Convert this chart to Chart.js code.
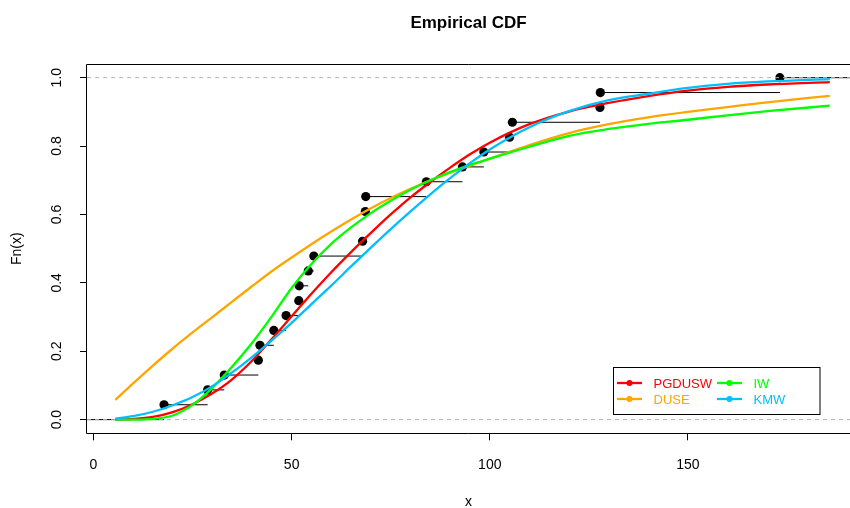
<!DOCTYPE html>
<html lang="en">
<head>
<meta charset="UTF-8">
<title>Empirical CDF</title>
<script src="https://cdn.jsdelivr.net/npm/chart.js@4.4.1/dist/chart.umd.min.js"></script>
<style>
  html, body { margin: 0; padding: 0; background: #fff; }
</style>
</head>
<body>
<canvas id="cdf" width="850" height="508"></canvas>
<script>
// observed sample (sorted, distinct values) and ECDF heights
const obsX = [17.8, 28.8, 33.0, 41.6, 42.0, 45.5, 48.6, 51.8, 51.9, 54.2, 55.6,
              67.9, 68.6, 68.7, 84.0, 93.1, 98.5, 105.0, 105.7, 127.8, 127.9, 173.2];
const ecdfY = [0.0435, 0.0870, 0.1304, 0.1739, 0.2174, 0.2609, 0.3043, 0.3478, 0.3913, 0.4348, 0.4783,
               0.5217, 0.6087, 0.6522, 0.6957, 0.7391, 0.7826, 0.8261, 0.8696, 0.9130, 0.9565, 1.0];

// fitted CDFs
const curveX = [5.5, 10, 15, 20, 25, 30, 35, 40, 45, 50, 55, 60, 65, 70, 75, 80, 85, 90, 95, 100,
                110, 120, 130, 140, 150, 160, 170, 185.8];
const pgdusw = [0.000, 0.002, 0.008, 0.022, 0.045, 0.077, 0.118, 0.172, 0.236, 0.302, 0.368, 0.431, 0.490, 0.546,
                0.600, 0.650, 0.695, 0.737, 0.776, 0.810, 0.864, 0.901, 0.926, 0.946, 0.962, 0.973, 0.980, 0.987];
const duse   = [0.058, 0.106, 0.158, 0.208, 0.255, 0.300, 0.345, 0.390, 0.434, 0.474, 0.513, 0.550, 0.585, 0.618,
                0.648, 0.675, 0.700, 0.722, 0.743, 0.763, 0.803, 0.838, 0.864, 0.884, 0.900, 0.914, 0.928, 0.947];
const iw     = [0.000, 0.000, 0.002, 0.012, 0.043, 0.093, 0.155, 0.224, 0.302, 0.385, 0.455, 0.514, 0.562, 0.604,
                0.640, 0.672, 0.700, 0.724, 0.745, 0.763, 0.798, 0.830, 0.850, 0.865, 0.877, 0.890, 0.902, 0.918];
const kmw    = [0.003, 0.010, 0.023, 0.042, 0.066, 0.098, 0.138, 0.183, 0.232, 0.283, 0.338, 0.392, 0.448, 0.503,
                0.557, 0.609, 0.659, 0.706, 0.750, 0.790, 0.855, 0.902, 0.934, 0.953, 0.970, 0.982, 0.989, 0.996];

const seriesNames = ['PGDUSW', 'DUSE', 'IW', 'KMW'];
const seriesColors = ['#FF0000', '#FFA500', '#00FF00', '#00BFFF'];

const xTicks = [0, 50, 100, 150];
const yTicks = [0, 0.2, 0.4, 0.6, 0.8, 1.0];
const yTickLabels = ['0.0', '0.2', '0.4', '0.6', '0.8', '1.0'];

const xMin = -1.64, xMax = 190.9;
const yMin = -0.04, yMax = 1.04;

Chart.defaults.font.family = '"Liberation Sans", Arial, Helvetica, sans-serif';
Chart.defaults.color = '#000';

const toXY = (xs, ys) => xs.map((x, i) => ({ x: x, y: ys[i] }));

// horizontal steps of the ecdf, broken by null points
const stepSegs = [];
const stepX = [xMin].concat(obsX);
const stepY = [0].concat(ecdfY);
for (let i = 0; i < stepX.length; i++) {
    const xEnd = i + 1 < stepX.length ? stepX[i + 1] : xMax;
    stepSegs.push({ x: stepX[i], y: stepY[i] }, { x: xEnd, y: stepY[i] }, { x: xEnd, y: null });
}

const curves = [pgdusw, duse, iw, kmw].map((vals, i) => ({
    label: seriesNames[i],
    data: toXY(curveX, vals),
    showLine: true,
    borderColor: seriesColors[i],
    borderWidth: 2.3,
    pointRadius: 0,
    cubicInterpolationMode: 'monotone',
    order: 4 - i
}));

const textPlugin = {
    id: 'rText',
    afterDraw(chart) {
        const c = chart.ctx;
        const a = chart.chartArea;
        c.save();
        // box (right side falls off the picture)
        c.strokeStyle = '#000';
        c.lineWidth = 1;
        c.beginPath();
        c.moveTo(850, Math.round(a.top) + 0.5);
        c.lineTo(Math.round(a.left) - 0.5, Math.round(a.top) + 0.5);
        c.lineTo(Math.round(a.left) - 0.5, Math.round(a.bottom) + 0.5);
        c.lineTo(850, Math.round(a.bottom) + 0.5);
        c.stroke();

        c.fillStyle = '#000';
        c.font = 'bold 17px "Liberation Sans", Arial, sans-serif';
        c.textAlign = 'center';
        c.textBaseline = 'middle';
        c.fillText('Empirical CDF', (a.left + a.right) / 2, 23);

        c.font = '14px "Liberation Sans", Arial, sans-serif';
        const ys = chart.scales.y;
        yTicks.forEach((v, i) => {
            c.save();
            c.translate(57, ys.getPixelForValue(v));
            c.rotate(-Math.PI / 2);
            c.fillText(yTickLabels[i], 0, 0);
            c.restore();
        });

        // legend
        c.fillStyle = '#fff';
        c.fillRect(613, 367, 207, 48);
        c.strokeRect(613.5, 367.5, 206.5, 47);
        const colX = [617, 717];
        const rowY = [383, 399];
        c.textAlign = 'left';
        c.font = '13px "Liberation Sans", Arial, sans-serif';
        seriesNames.forEach((name, i) => {
            const x0 = colX[Math.floor(i / 2)];
            const y0 = rowY[i % 2];
            c.strokeStyle = seriesColors[i];
            c.lineWidth = 2.3;
            c.beginPath();
            c.moveTo(x0, y0);
            c.lineTo(x0 + 25, y0);
            c.stroke();
            c.fillStyle = seriesColors[i];
            c.beginPath();
            c.arc(x0 + 12.5, y0, 3, 0, Math.PI * 2);
            c.fill();
            c.fillText(name, x0 + 36.5, y0 + 1);
        });
        c.restore();
    }
};

new Chart(document.getElementById('cdf'), {
    type: 'scatter',
    data: {
        datasets: curves.concat([
            {
                label: 'ref',
                data: [{ x: xMin, y: 0 }, { x: xMax, y: 0 }, { x: xMax, y: null },
                       { x: xMin, y: 1 }, { x: xMax, y: 1 }],
                showLine: true,
                borderColor: '#B3B3B3',
                borderWidth: 1,
                borderDash: [4, 4],
                pointRadius: 0,
                order: 5
            },
            {
                label: 'points',
                data: toXY(obsX, ecdfY),
                backgroundColor: '#000',
                borderWidth: 0,
                pointRadius: 4.6,
                order: 6
            },
            {
                label: 'steps',
                data: stepSegs,
                showLine: true,
                borderColor: '#000',
                borderWidth: 1,
                pointRadius: 0,
                spanGaps: false,
                order: 7
            }
        ])
    },
    options: {
        responsive: false,
        animation: false,
        layout: { autoPadding: false, padding: { top: 64, right: 0, bottom: 0, left: 0 } },
        plugins: { legend: { display: false }, tooltip: { enabled: false } },
        scales: {
            x: {
                type: 'linear',
                min: xMin,
                max: xMax,
                afterBuildTicks: s => { s.ticks = xTicks.map(v => ({ value: v })); },
                afterFit: s => { s.height = 74.7; s.paddingLeft = 0; s.paddingRight = 0; },
                grid: { drawOnChartArea: false, drawTicks: true, tickLength: 7, color: '#000' },
                border: { display: false },
                ticks: { font: { size: 14 }, padding: 16, maxRotation: 0, color: '#000' },
                title: { display: true, text: 'x', font: { size: 14 }, padding: { top: 0, bottom: -3 }, color: '#000' }
            },
            y: {
                type: 'linear',
                min: yMin,
                max: yMax,
                afterBuildTicks: s => { s.ticks = yTicks.map(v => ({ value: v })); },
                afterFit: s => { s.width = 87; },
                grid: { drawOnChartArea: false, drawTicks: true, tickLength: 7, color: '#000' },
                border: { display: false },
                ticks: { display: false },
                title: { display: true, text: 'Fn(x)', font: { size: 14 }, padding: { top: 9, bottom: 0 }, color: '#000' }
            }
        }
    },
    plugins: [textPlugin]
});
</script>
</body>
</html>
